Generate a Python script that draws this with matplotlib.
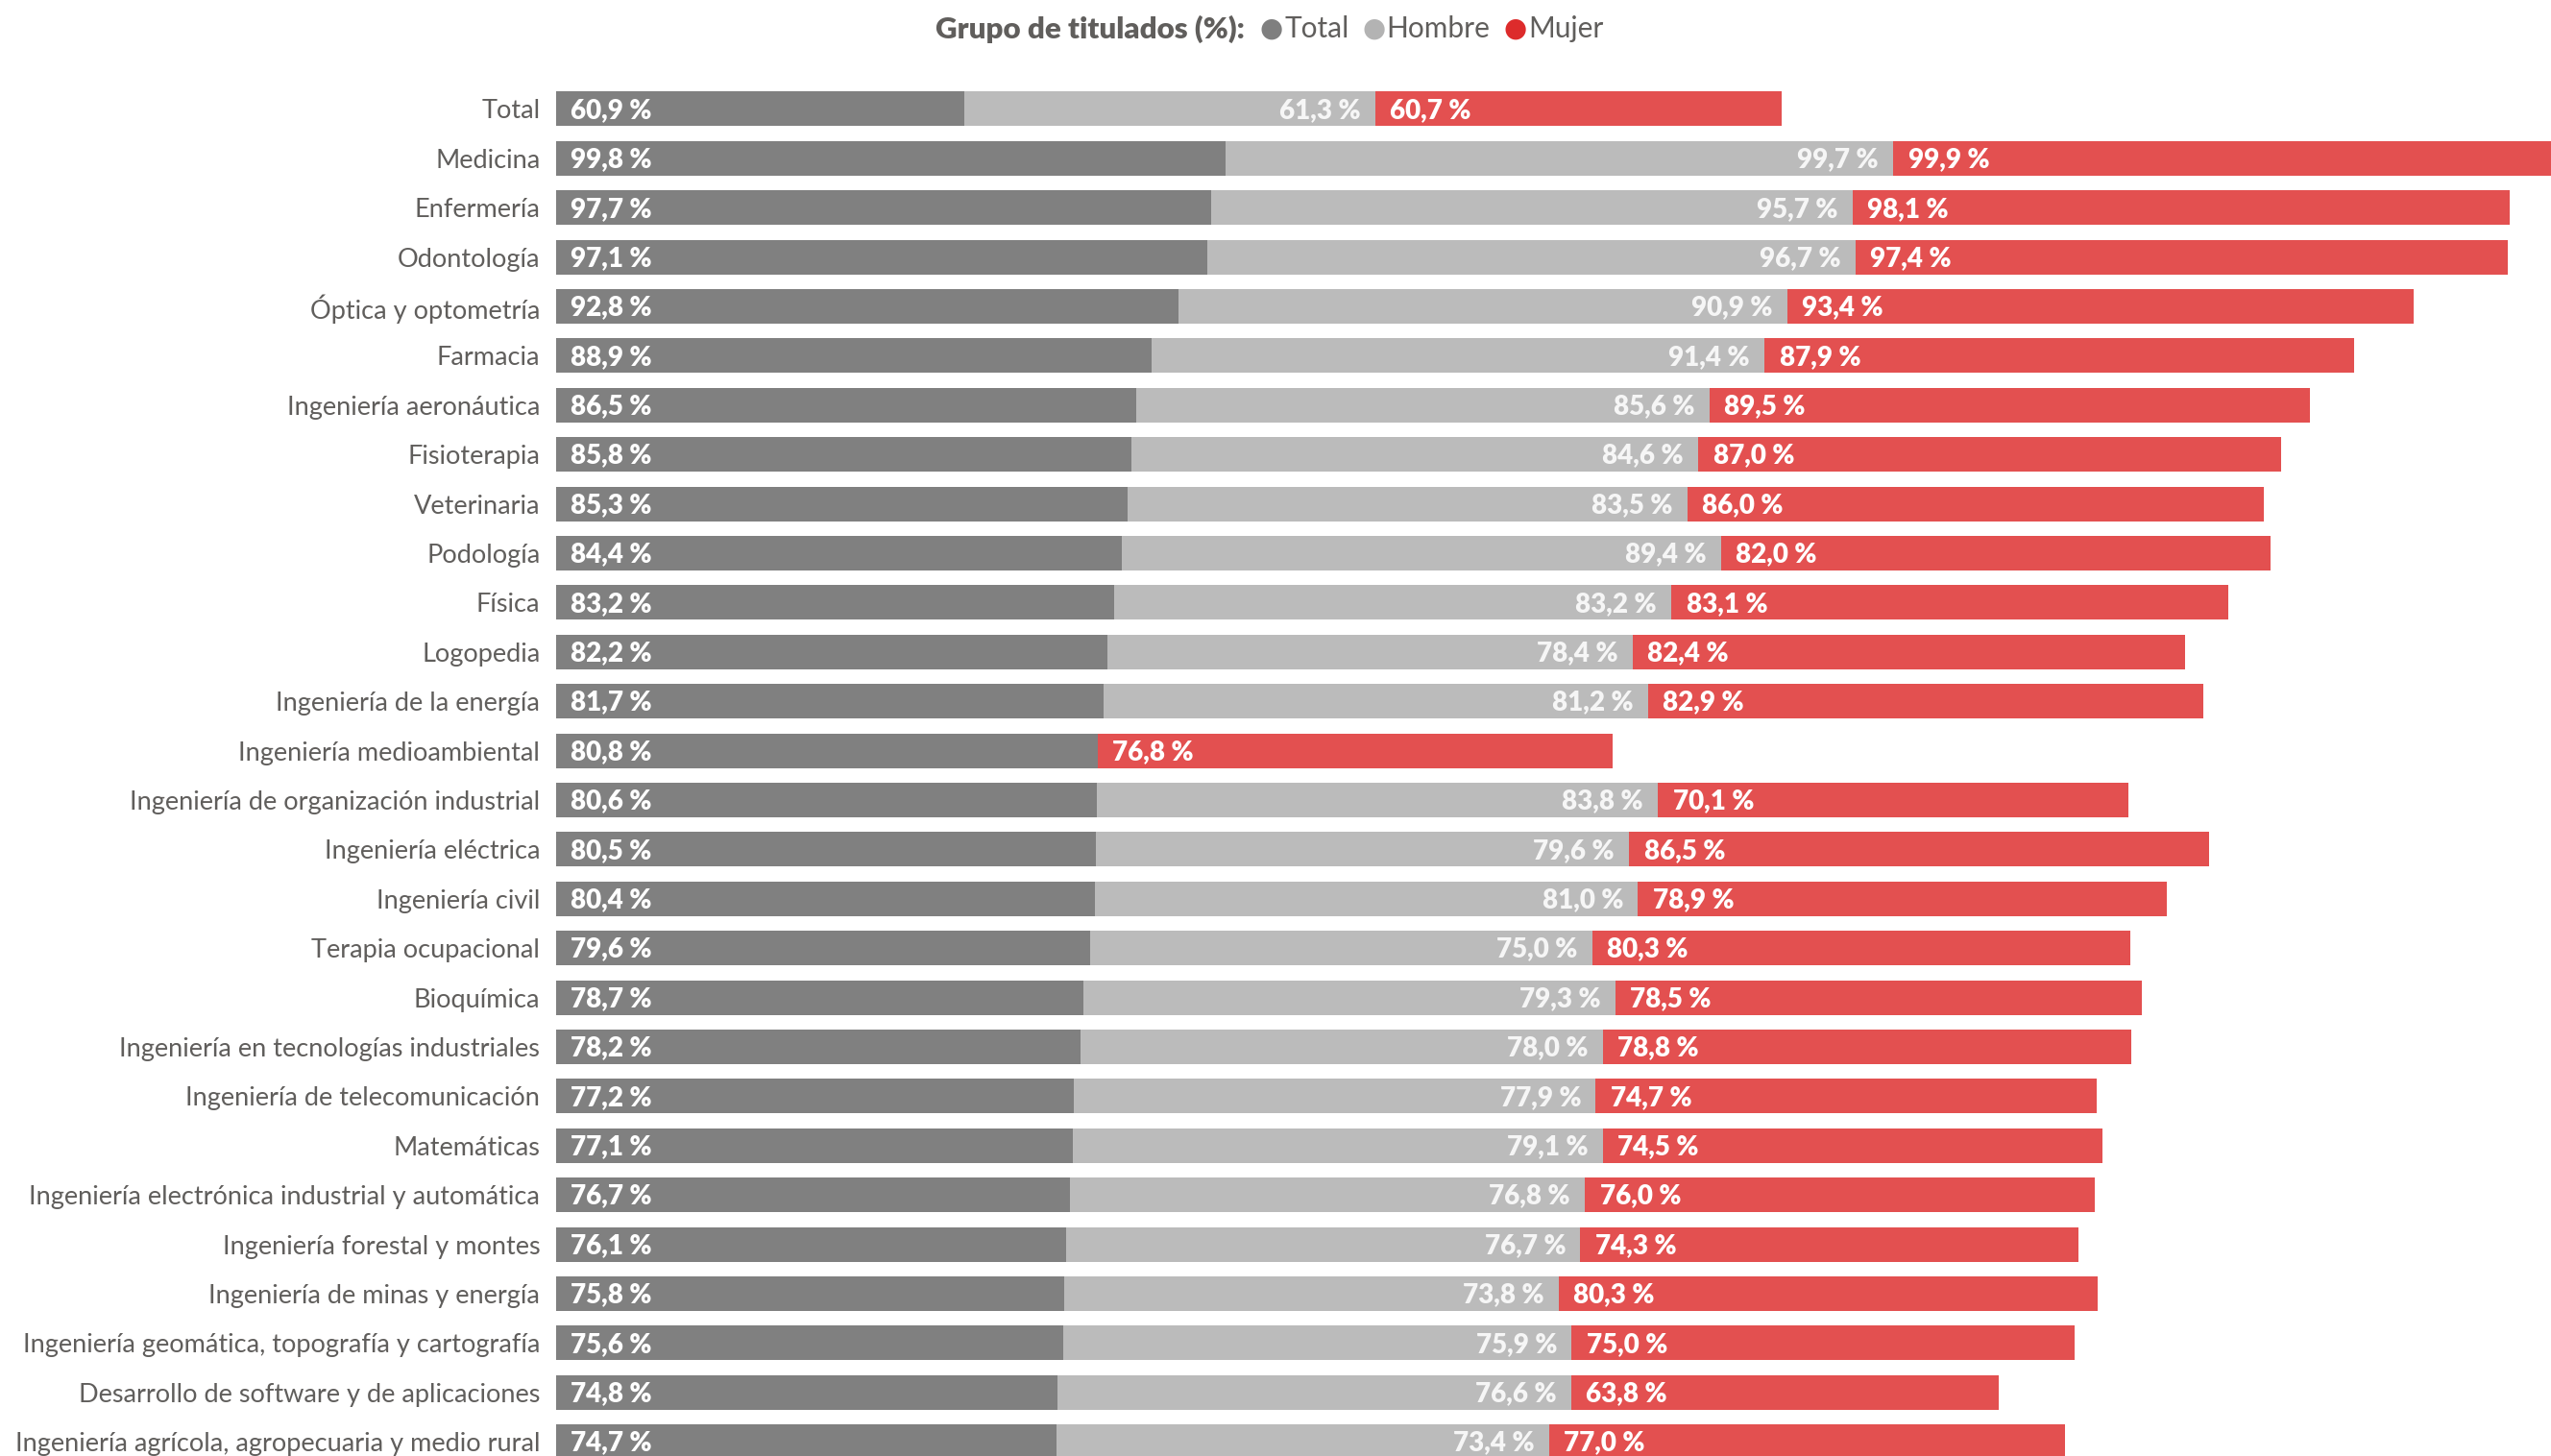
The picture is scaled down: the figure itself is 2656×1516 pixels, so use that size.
import matplotlib
matplotlib.use("Agg")
import matplotlib.pyplot as plt
import numpy as np

categories = [
    "Total", "Medicina", "Enfermería", "Odontología", "Óptica y optometría",
    "Farmacia", "Ingeniería aeronáutica", "Fisioterapia", "Veterinaria",
    "Podología", "Física", "Logopedia", "Ingeniería de la energía",
    "Ingeniería medioambiental", "Ingeniería de organización industrial",
    "Ingeniería eléctrica", "Ingeniería civil", "Terapia ocupacional",
    "Bioquímica", "Ingeniería en tecnologías industriales",
    "Ingeniería de telecomunicación", "Matemáticas",
    "Ingeniería electrónica industrial y automática",
    "Ingeniería forestal y montes", "Ingeniería de minas y energía",
    "Ingeniería geomática, topografía y cartografía",
    "Desarrollo de software y de aplicaciones",
    "Ingeniería agrícola, agropecuaria y medio rural",
]
total = [60.9, 99.8, 97.7, 97.1, 92.8, 88.9, 86.5, 85.8, 85.3, 84.4, 83.2, 82.2,
         81.7, 80.8, 80.6, 80.5, 80.4, 79.6, 78.7, 78.2, 77.2, 77.1, 76.7, 76.1,
         75.8, 75.6, 74.8, 74.7]
hombre = [61.3, 99.7, 95.7, 96.7, 90.9, 91.4, 85.6, 84.6, 83.5, 89.4, 83.2, 78.4,
          81.2, None, 83.8, 79.6, 81.0, 75.0, 79.3, 78.0, 77.9, 79.1, 76.8, 76.7,
          73.8, 75.9, 76.6, 73.4]
mujer = [60.7, 99.9, 98.1, 97.4, 93.4, 87.9, 89.5, 87.0, 86.0, 82.0, 83.1, 82.4,
         82.9, 76.8, 70.1, 86.5, 78.9, 80.3, 78.5, 78.8, 74.7, 74.5, 76.0, 74.3,
         80.3, 75.0, 63.8, 77.0]

C_TOTAL = "#808080"
C_HOMBRE = "#BBBBBB"
C_MUJER = "#E35050"
TXT = "#605E5C"

plt.rcParams["font.family"] = ["Lato", "DejaVu Sans"]

def fmt(v):
    return f"{v:.1f} %".replace(".", ",")

W, H = 2656, 1516
fig = plt.figure(figsize=(W / 100, H / 100), dpi=100)
ax = fig.add_axes([579 / W, 0, 1 - 579 / W, 1])

y = np.arange(len(categories))
t = np.array(total)
h = np.array([v if v is not None else 0 for v in hombre])
m = np.array(mujer)

bh = 0.70
ax.barh(y, t, height=bh, color=C_TOTAL)
ax.barh(y, h, left=t, height=bh, color=C_HOMBRE)
ax.barh(y, m, left=t + h, height=bh, color=C_MUJER)

lab = dict(va="center", fontsize=20, fontweight="heavy", textcoords="offset points")
for i in range(len(categories)):
    ax.annotate(fmt(total[i]), (0, i), xytext=(11, -1), ha="left", color="white", **lab)
    if hombre[i] is not None:
        ax.annotate(fmt(hombre[i]), (t[i] + h[i], i), xytext=(-11, -1), ha="right",
                    color="#F6F6F6", **lab)
    ax.annotate(fmt(mujer[i]), (t[i] + h[i], i), xytext=(11, -1), ha="left",
                color="white", **lab)

ax.set_xlim(0, 297.6)
ax.set_ylim(27.29, -2.208)
ax.set_yticks(y)
ax.set_yticklabels(categories, fontsize=19.5, color=TXT)
ax.tick_params(axis="y", length=0, pad=12)
ax.set_xticks([])
for s in ax.spines.values():
    s.set_visible(False)

# legend line at the top, laid out left to right
fig.canvas.draw()
r = fig.canvas.get_renderer()
ly = 1 - 30 / H
x = 974
title = fig.text(x / W, ly, "Grupo de titulados (%):", fontsize=22.5,
                 fontweight="heavy", color=TXT, ha="left", va="center")
x = title.get_window_extent(r).x1 + 16
for name, col in [("Total", "#7F7F7F"), ("Hombre", "#B3B3B3"), ("Mujer", "#DD2B2B")]:
    dot = fig.text(x / W, ly, "●", fontsize=20, color=col, ha="left", va="center",
                   family=["DejaVu Sans"])
    x = dot.get_window_extent(r).x1 + 1
    lbl = fig.text(x / W, ly, name, fontsize=21.5, color=TXT, ha="left", va="center")
    x = lbl.get_window_extent(r).x1 + 14

fig.savefig("out.png", dpi=100)
